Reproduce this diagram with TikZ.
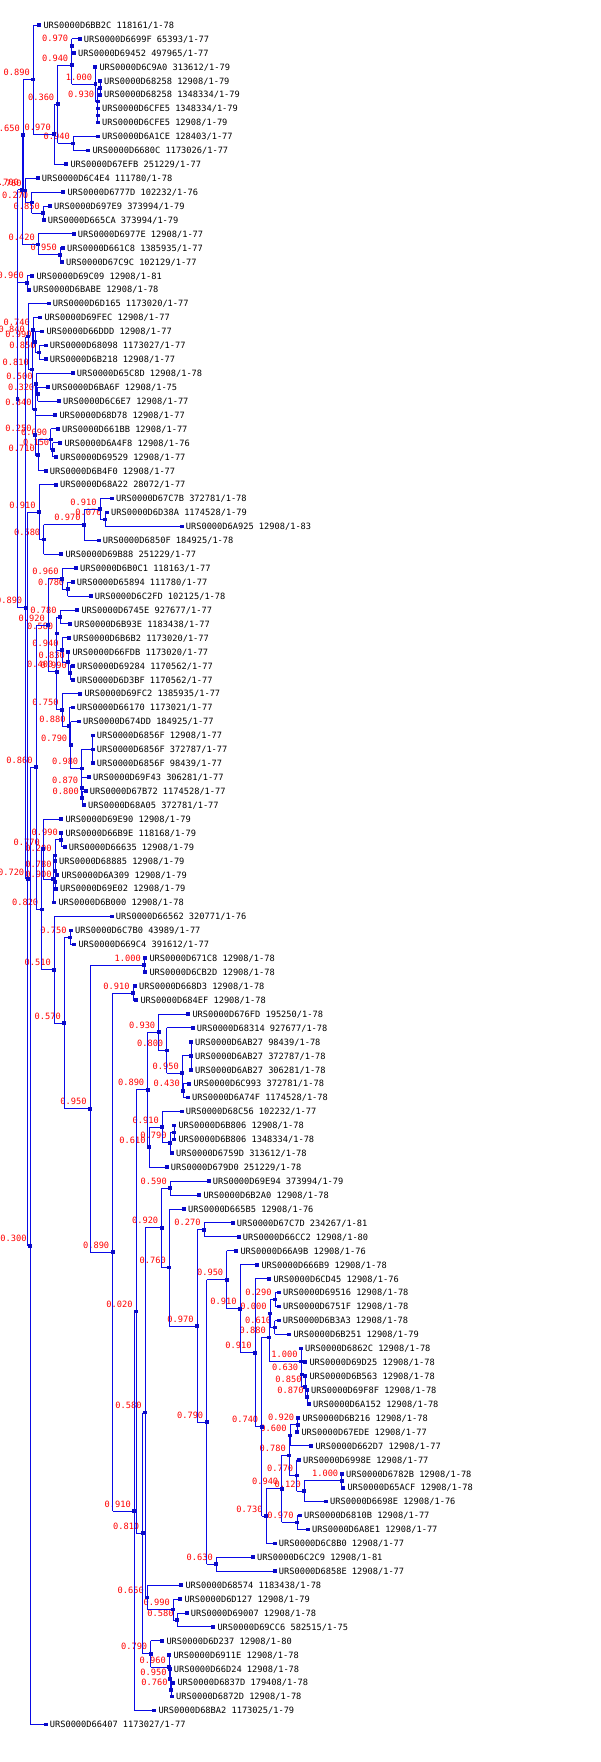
\documentclass[tikz,border=0pt]{standalone}
\usepackage{fontspec}
\setmonofont{DejaVu Sans Mono}
\usetikzlibrary{calc}
\pgfdeclarelayer{fg}
\pgfsetlayers{main,fg}
\definecolor{linecol}{RGB}{10,10,230}
\definecolor{markcol}{RGB}{10,10,200}
\definecolor{supcol}{RGB}{255,0,0}
\tikzset{
  br/.style={draw=linecol, line width=1pt},
  mk/.style={rectangle, fill=markcol, inner sep=0pt, minimum size=3.7pt},
  leaflab/.style={anchor=base west, inner sep=0pt, font=\ttfamily\fontsize{8.67}{10}\selectfont, text=black},
  suplab/.style={anchor=base east, inner sep=0pt, font=\ttfamily\fontsize{8.67}{10}\selectfont, text=supcol},
}
\newcommand\setY[2]{\expandafter\xdef\csname ty@#1\endcsname{#2}}
\newcommand\getY[1]{\csname ty@#1\endcsname}
\newcommand\Leaf[4]{%
  \pgfmathsetmacro\tmpy{25+13.93*(#2-1)}%
  \setY{#1}{\tmpy}%
  \coordinate (#1) at (#3,\tmpy);%
  \begin{pgfonlayer}{fg}\node[mk] at (#1) {};\end{pgfonlayer}%
  \node[leaflab] at ($(#1)+(4,3.3)$) {#4};%
}
\newcommand\Inner[4]{%
  \gdef\firstc{}%
  \foreach \ch in {#3}{\ifx\firstc\empty\xdef\firstc{\ch}\fi\xdef\lastc{\ch}}%
  \pgfmathsetmacro\tmpy{(\getY{\firstc}+\getY{\lastc})/2}%
  \setY{#1}{\tmpy}%
  \coordinate (#1) at (#2,\tmpy);%
  \draw[br] (#1 |- \firstc) -- (#1 |- \lastc);%
  \foreach \ch in {#3}{\draw[br] (#1 |- \ch) -- (\ch);}%
  \begin{pgfonlayer}{fg}\node[mk] at (#1) {};\end{pgfonlayer}%
  \if\relax\detokenize{#4}\relax\else\node[suplab] at ($(#1)+(-3.3,-4)$) {#4};\fi
}
\begin{document}
\begin{tikzpicture}[x=1pt,y=-1pt]
\fill[white] (0,0) rectangle (600,1762);
\useasboundingbox (0,0) rectangle (600,1762);
% ---- clade 1
\Leaf{L2}{2}{79.7}{URS0000D6699F 65393/1-77}
\Leaf{L3}{3}{74}{URS0000D69452 497965/1-77}
\Inner{F}{71.7}{L2,L3}{0.970}
\Leaf{L4}{4}{95.3}{URS0000D6C9A0 313612/1-79}
\Leaf{L5}{5}{100}{URS0000D68258 12908/1-79}
\Leaf{L6}{6}{100}{URS0000D68258 1348334/1-79}
\Inner{I}{100}{L5,L6}{}
\Leaf{L7}{7}{98}{URS0000D6CFE5 1348334/1-79}
\Leaf{L8}{8}{98}{URS0000D6CFE5 12908/1-79}
\Inner{J}{97.7}{L7,L8}{}
\Inner{H}{97.7}{I,J}{0.930}
\Inner{G}{95.5}{L4,H}{1.000}
\Inner{D}{71.7}{F,G}{0.940}
\Leaf{L9}{9}{98}{URS0000D6A1CE 128403/1-77}
\Leaf{L10}{10}{88.3}{URS0000D6680C 1173026/1-77}
\Inner{E}{73.3}{L9,L10}{0.940}
\Inner{C}{57.7}{D,E}{0.360}
\Leaf{L11}{11}{66.3}{URS0000D67EFB 251229/1-77}
\Inner{B}{54.3}{C,L11}{0.970}
\Leaf{L1}{1}{39.3}{URS0000D6BB2C 118161/1-78}
\Inner{A}{33.3}{L1,B}{0.890}
\Leaf{L12}{12}{37.7}{URS0000D6C4E4 111780/1-78}
\Leaf{L13}{13}{63.3}{URS0000D6777D 102232/1-76}
\Leaf{L14}{14}{50}{URS0000D697E9 373994/1-79}
\Leaf{L15}{15}{43.7}{URS0000D665CA 373994/1-79}
\Inner{N850a}{43.3}{L14,L15}{0.850}
\Inner{N270a}{31.7}{L13,N850a}{0.270}
\Inner{X1}{25}{L12,N270a}{0.760}
\Inner{N650a}{23.3}{A,X1}{0.650}
\Leaf{L16}{16}{73.7}{URS0000D6977E 12908/1-77}
\Leaf{L17}{17}{63}{URS0000D661C8 1385935/1-77}
\Leaf{L18}{18}{62}{URS0000D67C9C 102129/1-77}
\Inner{N950a}{60.3}{L17,L18}{0.950}
\Inner{N420}{38.3}{L16,N950a}{0.420}
\Inner{Y}{22.3}{N650a,N420}{0.700}
\Leaf{L19}{19}{32.3}{URS0000D69C09 12908/1-81}
\Leaf{L20}{20}{29}{URS0000D6BABE 12908/1-78}
\Inner{N960a}{27.3}{L19,L20}{0.960}
% ---- clade 2
\Leaf{L21}{21}{48.7}{URS0000D6D165 1173020/1-77}
\Leaf{L22}{22}{40.3}{URS0000D69FEC 12908/1-77}
\Leaf{L23}{23}{42.3}{URS0000D66DDD 12908/1-77}
\Leaf{L24}{24}{45.7}{URS0000D68098 1173027/1-77}
\Leaf{L25}{25}{45.7}{URS0000D6B218 12908/1-77}
\Inner{N850b}{39}{L24,L25}{0.850}
\Inner{N790a}{35}{L23,N850b}{0.990}
\Inner{N740}{33.3}{L22,N790a}{0.740}
\Leaf{L26}{26}{72.7}{URS0000D65C8D 12908/1-78}
\Leaf{L27}{27}{47.7}{URS0000D6BA6F 12908/1-75}
\Leaf{L28}{28}{59}{URS0000D6C6E7 12908/1-77}
\Inner{N320}{37.7}{L27,L28}{0.320}
\Inner{N500}{36}{L26,N320}{0.500}
\Leaf{L29}{29}{55.3}{URS0000D68D78 12908/1-77}
\Leaf{L30}{30}{58}{URS0000D661BB 12908/1-77}
\Leaf{L31}{31}{60.3}{URS0000D6A4F8 12908/1-76}
\Leaf{L32}{32}{56}{URS0000D69529 12908/1-77}
\Inner{Nb}{52.7}{L31,L32}{0.150}
\Inner{N090}{50.7}{L30,Nb}{0.090}
\Leaf{L33}{33}{45.7}{URS0000D6B4F0 12908/1-77}
\Inner{N710}{38.3}{N090,L33}{0.710}
\Inner{N250}{35}{L29,N710}{0.250}
\Inner{N840b}{35}{N500,N250}{0.840}
\Inner{N810a}{32.3}{N740,N840b}{0.810}
\Inner{N840a}{28.3}{L21,N810a}{0.840}
% ---- clade 3
\Leaf{L34}{34}{56}{URS0000D68A22 28072/1-77}
\Leaf{L35}{35}{112}{URS0000D67C7B 372781/1-78}
\Leaf{L36}{36}{107}{URS0000D6D38A 1174528/1-79}
\Leaf{L37}{37}{181.7}{URS0000D6A925 12908/1-83}
\Inner{N070}{105}{L36,L37}{0.070}
\Inner{N910x}{100}{L35,N070}{0.910}
\Leaf{L38}{38}{98.7}{URS0000D6850F 184925/1-78}
\Inner{N970a}{84}{N910x,L38}{0.970}
\Leaf{L39}{39}{61.3}{URS0000D69B88 251229/1-77}
\Inner{N580a}{43.7}{N970a,L39}{0.580}
\Inner{N910a}{39}{L34,N580a}{0.910}
% ---- clade 4
\Leaf{L40}{40}{76}{URS0000D6B0C1 118163/1-77}
\Leaf{L41}{41}{72.7}{URS0000D65894 111780/1-77}
\Leaf{L42}{42}{90.7}{URS0000D6C2FD 102125/1-78}
\Inner{N780a}{67.7}{L41,L42}{0.780}
\Inner{N960b}{62}{L40,N780a}{0.960}
\Leaf{L43}{43}{77.3}{URS0000D6745E 927677/1-77}
\Leaf{L44}{44}{70}{URS0000D6B93E 1183438/1-77}
\Inner{N780b}{60}{L43,L44}{0.780}
\Leaf{L45}{45}{69}{URS0000D6B6B2 1173020/1-77}
\Leaf{L46}{46}{68.3}{URS0000D66FDB 1173020/1-77}
\Leaf{L47}{47}{73}{URS0000D69284 1170562/1-77}
\Leaf{L48}{48}{72.7}{URS0000D6D3BF 1170562/1-77}
\Inner{N990}{70.3}{L47,L48}{0.990}
\Inner{N830}{68.3}{L46,N990}{0.830}
\Inner{N940}{62}{L45,N830}{0.940}
\Inner{N580b}{56.7}{N780b,N940}{0.580}
\Leaf{L49}{49}{80.3}{URS0000D69FC2 1385935/1-77}
\Leaf{L50}{50}{72.7}{URS0000D66170 1173021/1-77}
\Leaf{L51}{51}{79}{URS0000D674DD 184925/1-77}
\Leaf{L52}{52}{92.7}{URS0000D6856F 12908/1-77}
\Leaf{L53}{53}{92.7}{URS0000D6856F 372787/1-77}
\Leaf{L54}{54}{92.7}{URS0000D6856F 98439/1-77}
\Inner{P1}{92.7}{L52,L53,L54}{}
\Leaf{L55}{55}{89}{URS0000D69F43 306281/1-77}
\Leaf{L56}{56}{85.7}{URS0000D67B72 1174528/1-77}
\Leaf{L57}{57}{84}{URS0000D68A05 372781/1-77}
\Inner{N800}{82.3}{L56,L57}{0.800}
\Inner{N870}{81.7}{L55,N800}{0.870}
\Inner{N980}{81.7}{P1,N870}{0.980}
\Inner{N790}{70.7}{L51,N980}{0.790}
\Inner{N880}{69}{L50,N790}{0.880}
\Inner{N750}{62}{L49,N880}{0.750}
\Inner{N400}{56.7}{N580b,N750}{0.400}
\Inner{N920}{48.3}{N960b,N400}{0.920}
% ---- clade 5
\Leaf{L58}{58}{61.3}{URS0000D69E90 12908/1-79}
\Leaf{L59}{59}{61.3}{URS0000D66B9E 118168/1-79}
\Leaf{L60}{60}{64.7}{URS0000D66635 12908/1-79}
\Inner{N990b}{61.3}{L59,L60}{0.990}
\Leaf{L61}{61}{55}{URS0000D68885 12908/1-79}
\Leaf{L62}{62}{57.3}{URS0000D6A309 12908/1-79}
\Leaf{L63}{63}{56}{URS0000D69E02 12908/1-79}
\Inner{Q1}{55}{L62,L63}{0.900}
\Inner{Q2}{55}{L61,Q1}{0.780}
\Inner{Q4}{55}{N990b,Q2}{0.200}
\Leaf{L64}{64}{54.3}{URS0000D6B000 12908/1-78}
\Inner{Q5}{53.3}{Q4,L64}{}
\Inner{N770}{43.3}{L58,Q5}{0.770}
% ---- big lower clade
\Leaf{L65}{65}{111.7}{URS0000D66562 320771/1-76}
\Leaf{L66}{66}{71}{URS0000D6C7B0 43989/1-77}
\Leaf{L67}{67}{74.3}{URS0000D669C4 391612/1-77}
\Inner{N750b}{70}{L66,L67}{0.750}
\Leaf{L68}{68}{145.3}{URS0000D671C8 12908/1-78}
\Leaf{L69}{69}{145.3}{URS0000D6CB2D 12908/1-78}
\Inner{N1000b}{144.3}{L68,L69}{1.000}
\Leaf{L70}{70}{135}{URS0000D668D3 12908/1-78}
\Leaf{L71}{71}{136.3}{URS0000D684EF 12908/1-78}
\Inner{N910b}{133}{L70,L71}{0.910}
\Leaf{L72}{72}{188.3}{URS0000D676FD 195250/1-78}
\Leaf{L73}{73}{192.7}{URS0000D68314 927677/1-78}
\Leaf{L74}{74}{191}{URS0000D6AB27 98439/1-78}
\Leaf{L75}{75}{191}{URS0000D6AB27 372787/1-78}
\Leaf{L76}{76}{191}{URS0000D6AB27 306281/1-78}
\Inner{P2}{191}{L74,L75,L76}{}
\Leaf{L77}{77}{189.3}{URS0000D6C993 372781/1-78}
\Leaf{L78}{78}{188}{URS0000D6A74F 1174528/1-78}
\Inner{N430}{183.3}{L77,L78}{0.430}
\Inner{N950b}{182.3}{P2,N430}{0.950}
\Inner{N800b}{166.7}{L73,N950b}{0.800}
\Inner{N930}{158.7}{L72,N800b}{0.930}
\Leaf{L79}{79}{181.7}{URS0000D68C56 102232/1-77}
\Leaf{L80}{80}{174.3}{URS0000D6B806 12908/1-78}
\Leaf{L81}{81}{174.3}{URS0000D6B806 1348334/1-78}
\Inner{N806}{174.3}{L80,L81}{}
\Leaf{L82}{82}{172}{URS0000D6759D 313612/1-78}
\Inner{N790b}{170}{N806,L82}{0.790}
\Inner{N910d}{162.3}{L79,N790b}{0.910}
\Leaf{L83}{83}{166.7}{URS0000D679D0 251229/1-78}
\Inner{N610}{149}{N910d,L83}{0.610}
\Inner{N890d}{147.7}{N930,N610}{0.890}
\Leaf{L84}{84}{208.7}{URS0000D69E94 373994/1-79}
\Leaf{L85}{85}{199.3}{URS0000D6B2A0 12908/1-78}
\Inner{N590}{170.3}{L84,L85}{0.590}
\Leaf{L86}{86}{184}{URS0000D665B5 12908/1-76}
\Leaf{L87}{87}{232.7}{URS0000D67C7D 234267/1-81}
\Leaf{L88}{88}{238.7}{URS0000D66CC2 12908/1-80}
\Inner{N270}{204}{L87,L88}{0.270}
\Leaf{L89}{89}{236.3}{URS0000D66A9B 12908/1-76}
\Leaf{L90}{90}{257.3}{URS0000D666B9 12908/1-78}
\Leaf{L91}{91}{269.3}{URS0000D6CD45 12908/1-76}
\Leaf{L92}{92}{279}{URS0000D69516 12908/1-78}
\Leaf{L93}{93}{279}{URS0000D6751F 12908/1-78}
\Inner{N290}{275}{L92,L93}{0.290}
\Leaf{L94}{94}{278.7}{URS0000D6B3A3 12908/1-78}
\Leaf{L95}{95}{289.3}{URS0000D6B251 12908/1-79}
\Inner{N610e}{274.7}{L94,L95}{0.610}
\Inner{N000}{270}{N290,N610e}{0.000}
\Leaf{L96}{96}{301}{URS0000D6862C 12908/1-78}
\Leaf{L97}{97}{305.3}{URS0000D69D25 12908/1-78}
\Leaf{L98}{98}{305.3}{URS0000D6B563 12908/1-78}
\Leaf{L99}{99}{307}{URS0000D69F8F 12908/1-78}
\Leaf{L100}{100}{309}{URS0000D6A152 12908/1-78}
\Inner{N870e}{307}{L99,L100}{0.870}
\Inner{N850e}{305}{L98,N870e}{0.850}
\Inner{N630e}{301.7}{L97,N850e}{0.630}
\Inner{N1000e}{301}{L96,N630e}{1.000}
\Inner{N880e}{269.3}{N000,N1000e}{0.880}
\Leaf{L101}{101}{298.3}{URS0000D6B216 12908/1-78}
\Leaf{L102}{102}{297.3}{URS0000D67EDE 12908/1-77}
\Inner{N920e}{297.7}{L101,L102}{0.920}
\Leaf{L103}{103}{311.3}{URS0000D662D7 12908/1-77}
\Inner{N600}{290}{N920e,L103}{0.600}
\Leaf{L104}{104}{299}{URS0000D6998E 12908/1-77}
\Leaf{L105}{105}{342}{URS0000D6782B 12908/1-78}
\Leaf{L106}{106}{343.3}{URS0000D65ACF 12908/1-78}
\Inner{N1000f}{341.7}{L105,L106}{1.000}
\Leaf{L107}{107}{326}{URS0000D6698E 12908/1-76}
\Inner{N120}{304.3}{N1000f,L107}{0.120}
\Inner{N770e}{296.7}{L104,N120}{0.770}
\Inner{N780e}{289.3}{N600,N770e}{0.780}
\Leaf{L108}{108}{300}{URS0000D6810B 12908/1-77}
\Leaf{L109}{109}{308}{URS0000D6A8E1 12908/1-77}
\Inner{N970e}{297}{L108,L109}{0.970}
\Inner{N940e}{281.7}{N780e,N970e}{0.940}
\Leaf{L110}{110}{274.7}{URS0000D6C8B0 12908/1-77}
\Inner{N730}{266}{N940e,L110}{0.730}
\Inner{N740e}{261.7}{N880e,N730}{0.740}
\Inner{N910f}{255}{L91,N740e}{0.910}
\Inner{N910e}{240}{L90,N910f}{0.910}
\Inner{N950e}{226.7}{L89,N910e}{0.950}
\Leaf{L111}{111}{253}{URS0000D6C2C9 12908/1-81}
\Leaf{L112}{112}{274.7}{URS0000D6858E 12908/1-77}
\Inner{N630}{216.3}{L111,L112}{0.630}
\Inner{N790e}{206.7}{N950e,N630}{0.790}
\Inner{N970c}{197}{N270,N790e}{0.970}
\Inner{N760c}{169.3}{L86,N970c}{0.760}
\Inner{N920c}{161.7}{N590,N760c}{0.920}
\Leaf{L113}{113}{181.3}{URS0000D68574 1183438/1-78}
\Leaf{L114}{114}{180.3}{URS0000D6D127 12908/1-79}
\Leaf{L115}{115}{186.7}{URS0000D69007 12908/1-78}
\Leaf{L116}{116}{213.3}{URS0000D69CC6 582515/1-75}
\Inner{N580c}{177}{L115,L116}{0.580}
\Inner{N990c}{173.3}{L114,N580c}{0.990}
\Inner{N650}{147.3}{L113,N990c}{0.650}
\Inner{N580d}{145}{N920c,N650}{0.580}
\Leaf{L117}{117}{162.3}{URS0000D6D237 12908/1-80}
\Leaf{L118}{118}{169.3}{URS0000D6911E 12908/1-78}
\Leaf{L119}{119}{169.7}{URS0000D66D24 12908/1-78}
\Leaf{L120}{120}{173.3}{URS0000D6837D 179408/1-78}
\Leaf{L121}{121}{172}{URS0000D6872D 12908/1-78}
\Inner{N760}{171}{L120,L121}{0.760}
\Inner{N950c}{170}{L119,N760}{0.950}
\Inner{N960}{169.3}{L118,N950c}{0.960}
\Inner{N790d}{150.7}{L117,N960}{0.790}
\Inner{N810}{142.7}{N580d,N790d}{0.810}
\Inner{N020}{136}{N890d,N810}{0.020}
\Leaf{L122}{122}{154.3}{URS0000D68BA2 1173025/1-79}
\Inner{N910c}{134.3}{N020,L122}{0.910}
\Inner{N890c}{112.7}{N910b,N910c}{0.890}
\Inner{N950}{90}{N1000b,N890c}{0.950}
\Inner{N570}{64.3}{N750b,N950}{0.570}
\Inner{N510}{54.3}{L65,N570}{0.510}
\Inner{N820}{41.7}{N770,N510}{0.820}
\Inner{N860}{36}{N920,N820}{0.860}
\Leaf{L123}{123}{45.7}{URS0000D66407 1173027/1-77}
\Inner{N300}{30}{N860,L123}{0.300}
\Inner{N720}{27.7}{N910a,N300}{0.720}
\Inner{N890b}{25.7}{N840a,N720}{0.890}
\Inner{Z1}{17.5}{Y,N960a,N890b}{}
\end{tikzpicture}
\end{document}
